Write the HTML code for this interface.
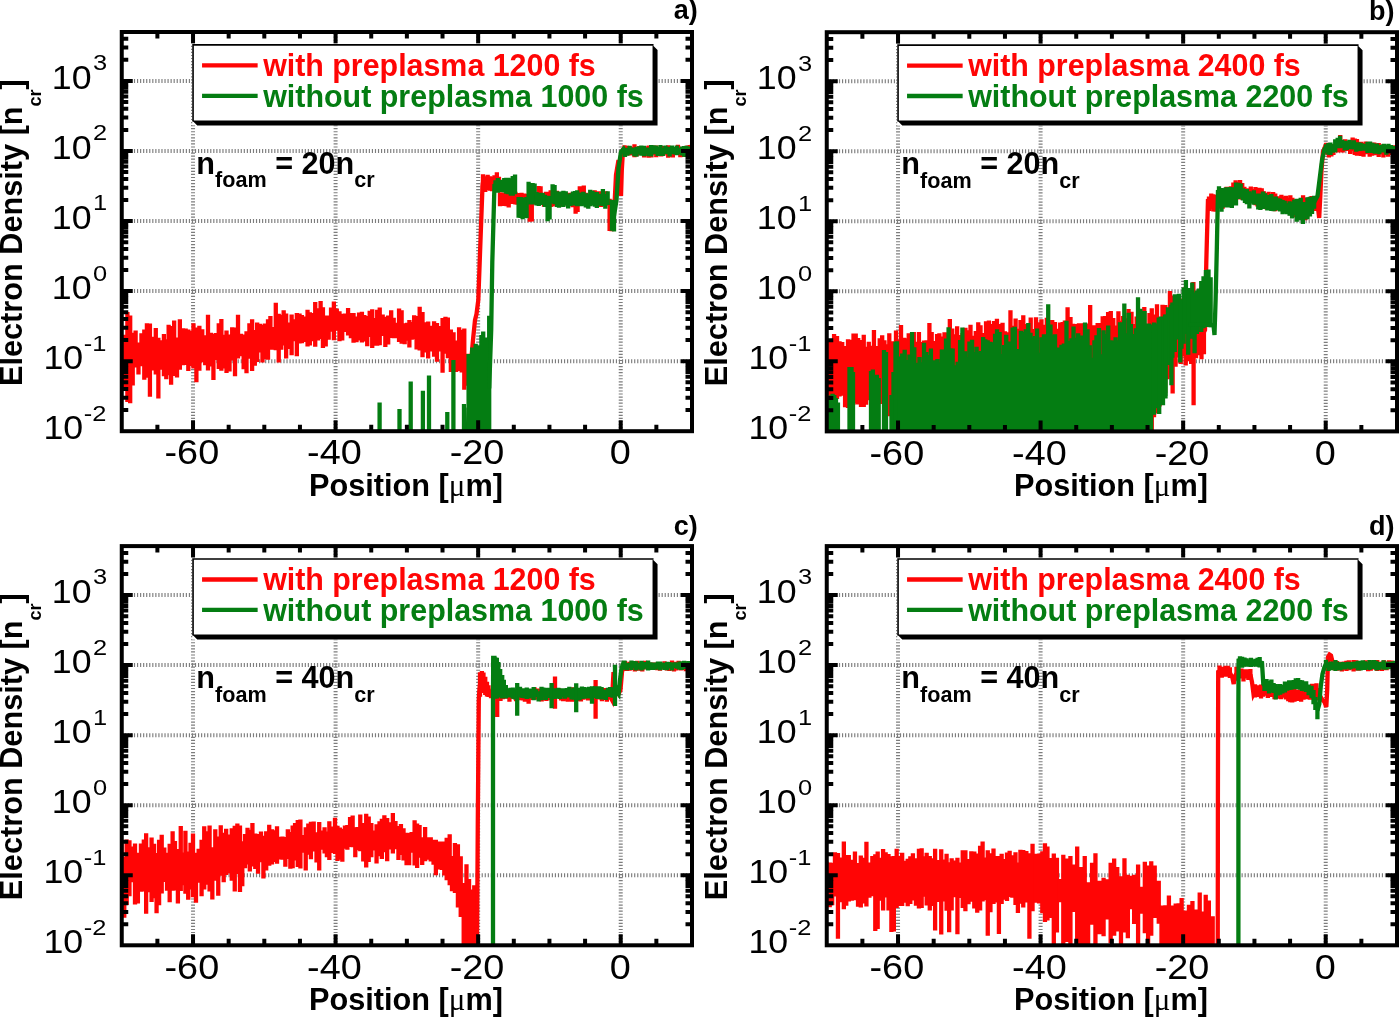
<!DOCTYPE html>
<html lang="en">
<head>
<meta charset="utf-8">
<title>Electron density profiles</title>
<style>
html,body{margin:0;padding:0;background:#fff;}
body{width:1400px;height:1017px;overflow:hidden;}
svg{display:block;will-change:transform;}
text{white-space:pre;}
</style>
</head>
<body>
<svg width="1400" height="1017" viewBox="0 0 1400 1017">
<rect width="1400" height="1017" fill="#fff"/>
<g id="panel-a">
<clipPath id="clip-a"><rect x="121.75" y="32" width="570.25" height="399.2"/></clipPath>
<g stroke="#7d7d7d" stroke-width="4" stroke-dasharray="1.15 1.9" fill="none">
<line x1="193.03" y1="431.2" x2="193.03" y2="32"/>
<line x1="335.59" y1="431.2" x2="335.59" y2="32"/>
<line x1="478.16" y1="431.2" x2="478.16" y2="32"/>
<line x1="620.72" y1="431.2" x2="620.72" y2="32"/>
<line x1="121.75" y1="361.15" x2="692" y2="361.15"/>
<line x1="121.75" y1="291.1" x2="692" y2="291.1"/>
<line x1="121.75" y1="221.06" x2="692" y2="221.06"/>
<line x1="121.75" y1="151.01" x2="692" y2="151.01"/>
<line x1="121.75" y1="80.96" x2="692" y2="80.96"/>
</g>
<g clip-path="url(#clip-a)" fill="none" stroke-width="4.3" stroke-linejoin="miter" stroke-miterlimit="4">
<g stroke="#ff0505">
<path d="M121.5 341.65V359.5M124.38 334.83V390.97M127.4 311.97V402.05M130.18 315.55V403.27M132.72 332.83V385.56M135.61 330.6V367.38M138.48 342.6V374.58M141.45 333.29V366.35M144.29 329.61V379.76M146.91 323.19V377.74M149.92 323.48V396.73M152.75 336.69V370.54M155.79 328.03V374.55M158.37 337.69V398.39M161.41 340.21V369.81M163.92 334.09V376.21M166.28 339.23V379.25M168.64 324.77V375.14M171.09 326.06V384.85M174.16 320.61V376M177 337.58V377.47M179.86 319.18V369.81M182.9 328.15V365.16M185.68 328.41V365.1M188.31 329.38V371.07M190.94 330.73V366.09M193.48 323.23V368.38M196.4 327.49V382.21M199.38 325.85V370.87M202.25 329.21V362.23M205.21 335.27V365.16M208 314.74V370.48M210.93 332.63V366.51M213.43 334V379.91M215.81 332.9V360.01M218.76 323.19V369.06M221.36 318.91V370.83M224.15 334.69V368.4M226.51 330.55V373.05M229.51 334.59V371.51M232.2 327.27V360.54M235.01 327.57V376.32M238.01 314.64V358.54M240.86 333.7V356.31M243.65 334.53V369.26M246.51 331.18V373.26M249.4 323.27V358.77M252.1 319.33V371M254.81 330.07V365.65M257.17 322.59V361.99M259.94 323.63V352.44M262.48 324.63V362.52M264.9 323.52V359.34M268 319.3V359.65M270.41 316V349.85M273.13 327.07V349.84M275.79 302.74V350.21M278.71 313.63V362.43M281.25 314.71V349.66M283.68 310.28V345.5M286.13 313.46V358.39M288.69 322.58V349.07M291.63 314.51V355.36M294.38 319.27V341.2M296.83 312.89V356.2M299.55 313.41V343.5M301.9 315.09V343.19M304.63 316.5V341.89M307.54 309.81V346.38M309.86 312.36V345.39M312.88 313.08V341.22M315.21 302.03V346.74M317.97 308.32V340.55M320.61 301.12V338.95M322.93 307.14V347.93M325.73 315.61V346.6M328.66 315.52V339.64M331.05 307.55V331.73M333.88 301.39V340.16M336.8 308.52V330.76M339.48 311.13V341.25M342.22 313.68V340.52M345.17 313.6V332.01M348.08 308.05V335.4M350.89 313.02V338.31M353.54 312.95V342.85M356.53 316.54V342.26M359.05 312.54V340.49M361.91 311.71V342.49M364.36 315.02V341.61M367.23 315.92V346.27M369.69 310.71V337.09M372.21 309.24V347.93M374.89 317.95V345.65M377.19 309.77V345.84M379.74 307.54V345.15M382.7 314.59V336.01M385.33 316.63V347.05M388.19 315.42V344.59M391.18 310.32V338.08M393.71 317.76V338.27M396.65 322.74V338.21M399.06 308.44V342.11M401.63 310.34V343.69M404.68 323.33V344.27M407.06 322.66V340.73M409.39 320.09V347.41M411.69 322.04V339.74M414.13 315.19V339.21M416.6 316.01V349.52M419.67 306.69V350.46M422.51 312.02V357.23M425.38 322.26V352.43M428.18 321.43V358.41M431.09 325.65V351.45M434.08 321.14V356.75M436.96 322.99V361.71M440.02 325.95V351.62M442.57 318.01V372.84M445.45 316.7V353.7M447.88 317.43V358.37M450.85 329.38V372M453.53 332.32V369.87M456.1 340.54V372.05M459.1 327.25V370.96M461.7 329.69V372.46M464.29 328.48V389.85M467.11 353.63V385.83M469.99 353.64V394.86"/>
<polyline points="469.99,374.25 473,340 475,320 476.5,314 478.3,300 480.5,240 482.5,186 483,181.87"/>
<path d="M483 174.3V189.43M485.25 176.34V191.95M487.68 174.7V190.33M489.96 176.16V190.63M492.05 176.8V191.15M494.47 175.29V189.29M496.87 172.3V188.87M498.95 176.73V190.41"/>
<path d="M500 192.25V206.22M502.51 192.69V206.03M504.62 192.55V205.33M506.61 192.54V206.18M508.71 194.14V207.41M510.71 193.1V204.03M512.99 192.84V203.93M515.41 191.66V204.44M517.31 195.12V204.82M519.23 193.02V207.69M521.51 192.77V205.74M524 193.58V205.54M526.18 193.72V204.23"/>
<path d="M529.8 196.32V221.63M531.8 195.75V221.57"/>
<path d="M535 192.27V204.55"/>
<path d="M538.6 186.05V204.98M540.6 186.13V202.92"/>
<path d="M544 192.7V206.63M546.05 191.77V205.99M548.4 191.85V206.33M550.69 190.31V207.05M552.73 190.8V206.38M554.78 191.43V204.78M556.86 190.75V205.31M559.12 193.47V205.19M561.63 193.7V206.61M563.76 194.46V205.5M565.79 193.42V203.87M568.24 192.8V206.21M570.19 192.88V203.91M572.69 192.3V207.3"/>
<path d="M575.6 196.49V213.66M577.6 196.16V211.89"/>
<path d="M579.8 186.34V204.44M581.8 186.64V203.14M583.8 185.49V203.78"/>
<path d="M586 192.72V204.72M587.9 194.68V207.53M590.23 194.78V205.2M592.37 192.63V204.72M594.66 190.29V203.84M596.99 193.1V203.62M598.88 191.2V205.72M601.14 194.16V207.04M603.47 192.58V203.92M605.54 191.29V205.93"/>
<path d="M609.6 198.85V231.02M611.6 201.18V231.36"/>
<polyline points="611.6,216.27 614.5,205 616,175 618.5,160 620,170 621,196 621.8,170 623,150 624.5,149.71"/>
<path d="M624.5 145.15V154.27M627.03 145.69V154.26M629.67 146.07V155.6M631.86 146.97V155.07M634.47 144.18V157.29M636.77 147.56V156.13M639.37 146.12V154.95M641.59 146.72V154.19M644.17 146.03V157.61M646.3 146.75V155.9M648.73 145.49V157.63M651.42 144.93V157.6M653.84 146.52V154.7M656.25 145.48V157.23M658.51 146.92V155.71M661.22 147.36V156.39M663.45 146.01V155.64M665.78 146.67V154.55M668.19 145.25V157.73M670.34 146.88V156.84M672.84 147.24V157.52M675.45 146.89V154.71M677.96 144.69V154.44M680.32 147.36V157.37M682.48 146.73V157.07M685.22 147.01V156.89M687.56 145.61V154.4M689.81 145.1V156.07M692.02 143.95V156.31"/>
</g>
<g stroke="#047d12">
<path d="M379.6 402.5V461.2M399.5 409V461.2M410.7 381.5V461.2M422.9 390.7V461.2M429 375.4V461.2M447.3 412V461.2M453.4 360V461.2M464 404V461.2"/>
<polyline points="467,461.2 468.6,407.64"/>
<path d="M468.6 354.07V461.2M470.29 357.86V461.2M472.2 347.45V461.2M474.07 359.31V461.2M475.69 343.77V461.2M477.8 345.47V461.2M479.42 346.95V461.2M481.41 335.01V461.2M483.2 331.61V461.35M485.28 337.94V461.2M487.45 337.43V461.2M489.19 315.82V461.2"/>
<polyline points="489.19,388.51 491.2,330 492.3,262 494.5,184 495.5,186.58"/>
<path d="M495.5 180.34V192.81M497.83 178.03V192.77M499.74 180.03V192.01M501.79 179.66V192.09M504.25 178.01V192.62M506.26 177.63V193.71M508.32 177.75V194.22M510.82 178.8V195.75M512.74 176.09V195.7M515.04 174.38V194.37"/>
<path d="M518.6 197.02V217.76M520.6 196.88V218.09M522.6 197.53V219.32M524.6 197.39V217.6M526.6 196.99V218.25"/>
<path d="M528.6 181.86V204.51M530.6 183.33V204.58M532.6 182.93V204.43M534.6 183.52V202.91"/>
<path d="M536.5 191.88V205.52M538.77 192.93V205.89M540.69 192.77V204.17M542.67 193.08V205.12M544.93 194.63V206.94"/>
<path d="M547.6 195.69V221.34M549.6 195.91V219.4"/>
<path d="M552.6 184.24V203.4M554.6 184.92V204.37"/>
<path d="M557 191.14V207.01M558.99 195.12V207.8M560.96 191.55V205.34M563.39 190.73V207M565.78 191.27V205.46M568.12 194.34V208.46M570.54 193.33V206.02M573.01 191.44V204.72M575.01 191V205.56M577.23 190.31V206.34M579.4 192.46V204.49M581.28 194.87V206.27M583.31 191.83V205.79M585.78 193.33V207.43M588.28 194.01V208.71M590.22 189.65V206.22M592.45 190.73V205.38M594.89 193.37V206.75M596.85 191.98V207.9M598.75 194.09V205.69M600.71 193.63V204.47M602.9 188.95V206.04M605.31 194V208.73M607.67 191.26V205.04"/>
<path d="M612 199.87V230.73M614 200.25V231.49"/>
<polyline points="614,215.87 616.5,200 618.5,168 621,152 623.5,149 625,152.33"/>
<path d="M625 147.69V156.96M627.37 148V155.73M629.56 145.77V154.45M631.68 147.47V153.87M634.31 148.2V156.21M636.41 146.65V156.78M638.95 146.29V154.41M641.28 145.45V155.75M643.91 145.7V156.15M646.09 147.63V154.24M648.42 147.42V156.28M651.13 145.05V156.45M653.48 145.35V154.18M655.72 145.42V153.91M657.77 146.87V155.96M660.5 145.07V156.12M662.76 147.87V155.98M665.41 145.57V154.37M667.55 146.74V153.92M669.67 147.04V156.6M672.02 145.57V154.04M674.53 146.88V154.47M676.79 145.41V155.28M679.31 147.69V154.21M681.85 146.54V155.6M684.18 146.02V156.74M686.36 145.67V157.12M688.77 146.6V155.4M691.52 147.38V155.05M693.88 145.7V154.3"/>
</g>
</g>
<g stroke="#000" stroke-width="4" fill="none">
<path d="M157.39 431.2v-6.5 M157.39 32v6.5"/>
<path d="M193.03 431.2v-11 M193.03 32v11"/>
<path d="M228.67 431.2v-6.5 M228.67 32v6.5"/>
<path d="M264.31 431.2v-6.5 M264.31 32v6.5"/>
<path d="M299.95 431.2v-6.5 M299.95 32v6.5"/>
<path d="M335.59 431.2v-11 M335.59 32v11"/>
<path d="M371.23 431.2v-6.5 M371.23 32v6.5"/>
<path d="M406.88 431.2v-6.5 M406.88 32v6.5"/>
<path d="M442.52 431.2v-6.5 M442.52 32v6.5"/>
<path d="M478.16 431.2v-11 M478.16 32v11"/>
<path d="M513.8 431.2v-6.5 M513.8 32v6.5"/>
<path d="M549.44 431.2v-6.5 M549.44 32v6.5"/>
<path d="M585.08 431.2v-6.5 M585.08 32v6.5"/>
<path d="M620.72 431.2v-11 M620.72 32v11"/>
<path d="M656.36 431.2v-6.5 M656.36 32v6.5"/>
<path d="M121.75 410.11h6.5 M692 410.11h-6.5"/>
<path d="M121.75 397.78h6.5 M692 397.78h-6.5"/>
<path d="M121.75 389.03h6.5 M692 389.03h-6.5"/>
<path d="M121.75 382.24h6.5 M692 382.24h-6.5"/>
<path d="M121.75 376.69h6.5 M692 376.69h-6.5"/>
<path d="M121.75 372h6.5 M692 372h-6.5"/>
<path d="M121.75 367.94h6.5 M692 367.94h-6.5"/>
<path d="M121.75 364.36h6.5 M692 364.36h-6.5"/>
<path d="M121.75 361.15h11 M692 361.15h-11"/>
<path d="M121.75 340.07h6.5 M692 340.07h-6.5"/>
<path d="M121.75 327.73h6.5 M692 327.73h-6.5"/>
<path d="M121.75 318.98h6.5 M692 318.98h-6.5"/>
<path d="M121.75 312.19h6.5 M692 312.19h-6.5"/>
<path d="M121.75 306.64h6.5 M692 306.64h-6.5"/>
<path d="M121.75 301.96h6.5 M692 301.96h-6.5"/>
<path d="M121.75 297.89h6.5 M692 297.89h-6.5"/>
<path d="M121.75 294.31h6.5 M692 294.31h-6.5"/>
<path d="M121.75 291.1h11 M692 291.1h-11"/>
<path d="M121.75 270.02h6.5 M692 270.02h-6.5"/>
<path d="M121.75 257.68h6.5 M692 257.68h-6.5"/>
<path d="M121.75 248.93h6.5 M692 248.93h-6.5"/>
<path d="M121.75 242.14h6.5 M692 242.14h-6.5"/>
<path d="M121.75 236.6h6.5 M692 236.6h-6.5"/>
<path d="M121.75 231.91h6.5 M692 231.91h-6.5"/>
<path d="M121.75 227.85h6.5 M692 227.85h-6.5"/>
<path d="M121.75 224.26h6.5 M692 224.26h-6.5"/>
<path d="M121.75 221.06h11 M692 221.06h-11"/>
<path d="M121.75 199.97h6.5 M692 199.97h-6.5"/>
<path d="M121.75 187.64h6.5 M692 187.64h-6.5"/>
<path d="M121.75 178.88h6.5 M692 178.88h-6.5"/>
<path d="M121.75 172.1h6.5 M692 172.1h-6.5"/>
<path d="M121.75 166.55h6.5 M692 166.55h-6.5"/>
<path d="M121.75 161.86h6.5 M692 161.86h-6.5"/>
<path d="M121.75 157.8h6.5 M692 157.8h-6.5"/>
<path d="M121.75 154.21h6.5 M692 154.21h-6.5"/>
<path d="M121.75 151.01h11 M692 151.01h-11"/>
<path d="M121.75 129.92h6.5 M692 129.92h-6.5"/>
<path d="M121.75 117.59h6.5 M692 117.59h-6.5"/>
<path d="M121.75 108.84h6.5 M692 108.84h-6.5"/>
<path d="M121.75 102.05h6.5 M692 102.05h-6.5"/>
<path d="M121.75 96.5h6.5 M692 96.5h-6.5"/>
<path d="M121.75 91.81h6.5 M692 91.81h-6.5"/>
<path d="M121.75 87.75h6.5 M692 87.75h-6.5"/>
<path d="M121.75 84.17h6.5 M692 84.17h-6.5"/>
<path d="M121.75 80.96h11 M692 80.96h-11"/>
<path d="M121.75 59.87h6.5 M692 59.87h-6.5"/>
<path d="M121.75 47.54h6.5 M692 47.54h-6.5"/>
<path d="M121.75 38.79h6.5 M692 38.79h-6.5"/>
</g>
<rect x="121.75" y="32" width="570.25" height="399.2" fill="none" stroke="#000" stroke-width="4"/>
<g id="legend-a">
<rect x="192.25" y="44.1" width="465.3" height="81.3" fill="#fff"/>
<path d="M652.55 45.1 L657.55 50.1 L657.55 125.4 L197.25 125.4 L192.25 120.4 L652.55 120.4 Z" fill="#000"/>
<path d="M193.05 121.4 V44.9 H653.55" fill="none" stroke="#000" stroke-width="1.6"/>
<line x1="202.05" y1="65.4" x2="257.65" y2="65.4" stroke="#ff0505" stroke-width="4.3"/>
<line x1="202.05" y1="95.8" x2="257.65" y2="95.8" stroke="#047d12" stroke-width="4.3"/>
<text x="263.15" y="76.1" font-family="'Liberation Sans', Arial, Helvetica, sans-serif" font-weight="bold" font-size="30.5" fill="#ff0505" textLength="332.6" lengthAdjust="spacingAndGlyphs">with preplasma 1200 fs</text>
<text x="263.15" y="106.7" font-family="'Liberation Sans', Arial, Helvetica, sans-serif" font-weight="bold" font-size="30.5" fill="#047d12" textLength="380.6" lengthAdjust="spacingAndGlyphs">without preplasma 1000 fs</text>
</g>
<text x="196.35" y="174" font-family="'Liberation Sans', Arial, Helvetica, sans-serif" font-weight="bold" font-size="30.6" fill="#000">n<tspan font-size="21.6" dy="13.4">foam</tspan><tspan dy="-13.4"> = 20n</tspan><tspan font-size="21.6" dy="13.4">cr</tspan></text>
<text transform="translate(191.83 464.4) scale(1.065 1)" font-family="'Liberation Sans', Arial, Helvetica, sans-serif" font-size="35.5" text-anchor="middle" fill="#000">-60</text>
<text transform="translate(334.39 464.4) scale(1.065 1)" font-family="'Liberation Sans', Arial, Helvetica, sans-serif" font-size="35.5" text-anchor="middle" fill="#000">-40</text>
<text transform="translate(476.96 464.4) scale(1.065 1)" font-family="'Liberation Sans', Arial, Helvetica, sans-serif" font-size="35.5" text-anchor="middle" fill="#000">-20</text>
<text transform="translate(620.32 464.4) scale(1.065 1)" font-family="'Liberation Sans', Arial, Helvetica, sans-serif" font-size="35.5" text-anchor="middle" fill="#000">0</text>
<text transform="translate(83.25 439.2) scale(1.1 1)" font-family="'Liberation Sans', Arial, Helvetica, sans-serif" font-size="32.5" text-anchor="end" fill="#000">10</text>
<text transform="translate(83.75 420.6) scale(1.13 1)" font-family="'Liberation Sans', Arial, Helvetica, sans-serif" font-size="22.5" fill="#000">-2</text>
<text transform="translate(83.25 369.15) scale(1.1 1)" font-family="'Liberation Sans', Arial, Helvetica, sans-serif" font-size="32.5" text-anchor="end" fill="#000">10</text>
<text transform="translate(83.75 350.55) scale(1.13 1)" font-family="'Liberation Sans', Arial, Helvetica, sans-serif" font-size="22.5" fill="#000">-1</text>
<text transform="translate(91.55 299.1) scale(1.1 1)" font-family="'Liberation Sans', Arial, Helvetica, sans-serif" font-size="32.5" text-anchor="end" fill="#000">10</text>
<text transform="translate(93.05 280.5) scale(1.13 1)" font-family="'Liberation Sans', Arial, Helvetica, sans-serif" font-size="22.5" fill="#000">0</text>
<text transform="translate(91.55 229.06) scale(1.1 1)" font-family="'Liberation Sans', Arial, Helvetica, sans-serif" font-size="32.5" text-anchor="end" fill="#000">10</text>
<text transform="translate(93.05 210.46) scale(1.13 1)" font-family="'Liberation Sans', Arial, Helvetica, sans-serif" font-size="22.5" fill="#000">1</text>
<text transform="translate(91.55 159.01) scale(1.1 1)" font-family="'Liberation Sans', Arial, Helvetica, sans-serif" font-size="32.5" text-anchor="end" fill="#000">10</text>
<text transform="translate(93.05 140.41) scale(1.13 1)" font-family="'Liberation Sans', Arial, Helvetica, sans-serif" font-size="22.5" fill="#000">2</text>
<text transform="translate(91.55 88.96) scale(1.1 1)" font-family="'Liberation Sans', Arial, Helvetica, sans-serif" font-size="32.5" text-anchor="end" fill="#000">10</text>
<text transform="translate(93.05 70.36) scale(1.13 1)" font-family="'Liberation Sans', Arial, Helvetica, sans-serif" font-size="22.5" fill="#000">3</text>
<text x="405.98" y="496" font-family="'Liberation Sans', Arial, Helvetica, sans-serif" font-weight="bold" font-size="30.7" text-anchor="middle" fill="#000">Position [<tspan font-family="'Liberation Serif', 'DejaVu Serif', serif" font-weight="normal" font-size="31">μ</tspan>m]</text>
<text transform="translate(22.25 232.6) rotate(-90)" font-family="'Liberation Sans', Arial, Helvetica, sans-serif" font-weight="bold" font-size="30.7" text-anchor="middle" fill="#000">Electron Density [n<tspan font-size="18" dy="18.3">cr</tspan><tspan dy="-18.3">]</tspan></text>
<text x="697.8" y="19.4" font-family="'Liberation Sans', Arial, Helvetica, sans-serif" font-weight="bold" font-size="27" text-anchor="end" fill="#000">a)</text>
</g>
<g id="panel-b">
<clipPath id="clip-b"><rect x="826.75" y="32.2" width="570.25" height="399.2"/></clipPath>
<g stroke="#7d7d7d" stroke-width="4" stroke-dasharray="1.15 1.9" fill="none">
<line x1="898.03" y1="431.4" x2="898.03" y2="32.2"/>
<line x1="1040.59" y1="431.4" x2="1040.59" y2="32.2"/>
<line x1="1183.16" y1="431.4" x2="1183.16" y2="32.2"/>
<line x1="1325.72" y1="431.4" x2="1325.72" y2="32.2"/>
<line x1="826.75" y1="361.35" x2="1397" y2="361.35"/>
<line x1="826.75" y1="291.3" x2="1397" y2="291.3"/>
<line x1="826.75" y1="221.26" x2="1397" y2="221.26"/>
<line x1="826.75" y1="151.21" x2="1397" y2="151.21"/>
<line x1="826.75" y1="81.16" x2="1397" y2="81.16"/>
</g>
<g clip-path="url(#clip-b)" fill="none" stroke-width="4.3" stroke-linejoin="miter" stroke-miterlimit="4">
<g stroke="#ff0505">
<path d="M826.5 354.81V396.1M828.9 339.4V425.9M831.5 339.09V404.2M834.08 333.99V397.51M837.01 336.05V399.11M839.53 341.22V396.38M842.21 341.95V395.78M845.08 346.06V407.21M848.01 339.28V408.12M850.69 339.66V430.35M853.52 333.46V404.7M855.73 333.42V403.51M858.21 338.06V404.46M861 340.07V407.1M863.75 334.77V407.05M866.11 346.85V404.87M868.78 341.87V400.32M871.28 345.67V402.81M873.95 330.12V407.18M876.84 345.89V405M879.71 338.16V403.05M882.18 335.13V404.11M884.45 340.26V409.08M886.7 344.15V407.51M889.3 333.33V416.23M892.01 341.3V407.41"/>
<path d="M896 330.58V458.37M898.6 340.11V457.27M901.02 324.92V465.81M903.99 337.72V466.67M906.29 338.19V460.2M908.73 333.37V465.07M911.24 342.71V464.68M913.8 331.98V457.92M916.33 341.75V457.99M918.92 332.04V470M921.57 342V455.25M923.96 340.46V456.97M926.53 340.32V461.4M929.41 322.94V464.27M931.68 331.94V466.62M934.2 341.1V457.76M937.09 333.96V457.06M939.39 333.27V458.28M942.16 336.54V456.91M944.52 332.16V466.21M947.38 332.48V459.21M949.84 318.93V456.64M952.21 328.52V457.94M954.66 334.32V472.81M957.12 326.28V466.3M960.06 335.08V459.15M962.57 332.96V456.43M965.43 327.86V461.86M967.86 330.18V467.04M970.5 324.76V469.66M973.39 335.76V461.51M975.78 330.98V457.06M978.25 322.33V456.14M980.51 325.19V464.46M983.17 332.95V456.22M986.03 321.17V456.79M988.91 320.51V464.82M991.56 323.95V455.68M994.02 320.95V462.11M996.93 318.78V463.12M999.65 323.88V462.48M1002.54 322.65V466.34M1005.02 331.35V460.62M1007.95 332.27V457.38M1010.47 310.18V456.79M1012.99 325.86V460.47M1015.61 318.42V456.19M1018.22 328.65V462.51M1020.49 319.98V464.46M1023.28 315.3V474.12M1025.71 323.88V460.83M1027.92 328.97V471.64M1030.71 317.4V456.34M1033 328.97V457.43M1035.96 317.34V458.37M1038.75 322.36V470.77M1041.47 319.17V462.23M1044.37 324.83V461.59M1046.81 317.74V471.97M1049.57 329.05V463.27M1052.23 320.1V464.08M1054.98 322.11V463.06M1057.78 328.79V458.44M1060.2 322.47V455.73M1062.65 322.05V458.38M1064.87 320.54V455.36M1067.58 307.35V462.17M1070.5 316.98V465.95M1073.12 323.74V457.43M1076.11 323.94V463.22M1078.92 323.23V466.99M1081.9 323.33V461.78M1084.88 322.97V460.28M1087.41 323.58V463.21M1090.18 304.99V455.77M1092.52 325.34V456.44M1095.24 325.33V473.19M1097.64 322.9V459.47M1099.86 323.07V473.88M1102.7 316.16V466.96M1105.23 315.98V466.42M1108.11 311.99V462.67M1110.8 310.9V459.13M1113.28 318.01V467.16M1116.09 325.42V466.78M1118.42 311.15V465.34M1120.67 320.71V457.22M1123.06 316.11V456.71M1125.58 318.25V466.31M1128.55 308.9V462.1M1131.5 311.79V460.02M1134.29 323.97V460.24M1136.61 316.43V468.2M1139.35 315.12V461.44M1141.75 322.48V457.72M1144.3 306.96V455.48M1146.99 324.51V463.16M1149.48 312.92V465.47M1151.77 308.19V455.5"/>
<path d="M1154 314.44V417.35M1156.98 304.32V413.4M1159.58 317.36V406.38M1162.49 304.78V397.6M1165.19 304.93V393.04M1167.6 311.42V379.13M1169.95 291.01V377.25M1172.63 295.62V393.6M1175.56 302.26V366.65M1177.99 297.28V357.58M1180.73 298.55V364.09M1183.11 301.48V356.41M1185.7 286.71V365.6M1188.24 304.67V361.18M1191.17 295.65V363.91M1193.39 282V354.83M1196.02 296.68V358.31M1198.93 291.52V355.23M1201.49 286.82V359.23M1203.93 286.01V354.35"/>
<path d="M1193.6 299.37V405.13"/>
<polyline points="1193.6,352.25 1205,330 1206.3,262 1208,199 1209,203.76"/>
<path d="M1209 196.54V210.98M1211.26 193.39V209.06M1213.41 194.23V211.6M1215.59 195.06V211.8M1218.08 195.61V207.11M1220.14 190.33V206.73M1222.67 189.91V208.85M1224.74 189.52V204.84M1226.64 186.71V206.29M1228.52 188.37V206.8M1230.96 186.21V205.11M1233.34 182.62V199.81M1235.62 180.29V195.77M1237.88 182.07V192.84M1240.07 179.98V199.52M1242.24 183.1V199.86M1244.35 186.86V198.21M1246.5 188.27V200.72M1248.56 189.52V199.32M1250.81 186.53V201.58M1252.91 189V201.55M1255.44 187.09V205.23M1257.5 190.86V206.57M1259.49 187.65V204.93M1261.74 188.28V206.61M1263.87 191.17V206.07M1266.31 193.06V209.13M1268.68 191.74V205.63M1271.06 193.92V206.32M1273.16 191.89V208.48M1275.24 193.5V211.19M1277.25 196.53V208.22M1279.22 196.27V209.07M1281.4 194.8V210.48M1283.75 196.57V212.03M1285.93 195.84V211.6M1288.04 197.86V211.79M1290.35 195.18V215.19M1292.37 197.75V212.83M1294.76 199.73V217.15M1296.66 199.54V214.71M1298.64 199.6V218.07M1300.63 199.18V217.38M1303.07 195.32V217.62M1305.3 200.54V220.17M1307.21 197.66V217.55M1309.56 197.33V214.27M1311.49 196.11V210.27M1313.43 196.03V209.68M1315.91 195.88V210.92"/>
<polyline points="1315.91,203.4 1318,208 1319.2,218 1320.3,196 1321.5,170 1323,152 1325,147 1326.5,148.78"/>
<path d="M1326.5 142.83V154.73M1328.91 145.24V157.39M1331.37 144V156.57M1333.43 144.67V154.88M1336.05 142.59V151.56M1338.13 140.65V152.45M1340.25 134.96V151.69M1342.74 140.3V152.38M1345.19 139.3V150.67M1347.65 141.25V150.99M1350.18 141.29V153.96M1352.63 137.45V151M1354.78 138.5V154.97M1356.95 138.94V155.74M1358.96 142.81V154.14M1360.93 141.79V156.02M1363.55 142.74V156.79M1365.7 141.53V154.26M1367.68 142.64V154.3M1369.7 143.01V156.71M1372.06 144.26V155.77M1374.27 142.61V155.36M1376.45 145.25V155.23M1378.71 143.07V157.05M1381.01 145.13V154.28M1383.36 144.27V157.59M1385.53 145.81V155.06M1387.98 146.69V156.69M1390.24 145.49V154.96M1392.72 147.32V154.67M1394.69 145.37V154.83M1396.8 147.51V156.24M1399.35 148.62V157.9"/>
</g>
<g stroke="#047d12">
<path d="M827 409.35V461.2M828.98 399.78V461.2M830.83 395.16V461.2M832.57 393.71V461.2M834.28 395.09V461.2M835.99 397.91V461.2M837.93 402.41V461.2"/>
<polyline points="837.93,431.81 840,461.2"/>
<path d="M849.5 367V461.2M851.5 367V461.2M853 372V461.2"/>
<path d="M871 370.98V461.2M872.9 369.4V461.2M874.91 376V461.2M876.86 374.64V461.2M878.7 377.92V461.2"/>
<path d="M884 350V461.2M886 352V461.2M891.5 395V461.2M893.5 372V461.2"/>
<path d="M895.5 341.86V461.2M896.96 341.28V461.2"/>
<path d="M900 356.62V461.2M902.2 353.38V461.2M904.68 349.67V461.2M907.07 359.99V461.2M909.45 354.45V461.2M912.06 331.89V461.2M914.29 347.27V461.2M916.89 362.73V461.48M919.5 357.11V461.2M921.61 362.35V461.2M924.02 342.83V461.2M926.23 351.9V461.2M928.48 354.89V461.2M930.91 348.48V461.2M932.87 360.55V461.2M935.22 360.32V461.98M937.42 359V461.2M939.7 362.53V461.2M941.86 349.43V461.2M944.01 353.19V461.2M946 338.44V461.2M948.57 327.18V461.2M950.54 348.13V461.7M952.66 348.55V461.2M955.01 365.27V461.2M957.63 361.75V461.2M960.11 340.09V461.2M962.41 327.4V461.2M965.02 351.29V461.2M966.99 357.05V461.2M969.43 341.45V461.2M972.04 339.87V461.2M974.11 351.92V461.2M976.59 346.72V461.2M978.7 351.8V461.2M981.1 350.98V461.2M983.1 337.07V461.2M985.29 339.37V461.2M987.67 340.17V461.2M990.03 341.79V461.2M992.66 342.17V461.61M995.08 333.79V461.2M997.04 329.33V461.2M999.65 332.06V461.2M1001.96 354.07V461.2M1004.16 345.05V461.2M1006.22 334.64V461.31M1008.25 344.48V461.2M1010.21 341.53V461.2M1012.63 327.61V461.2M1014.85 326.72V461.2M1016.87 349.07V461.2M1018.92 350.26V461.2M1020.95 330.68V461.8M1023.34 331.7V461.2M1025.79 329.3V461.2M1028.25 323.11V461.2M1030.52 332.64V461.2M1032.92 337.48V461.2M1035.02 336.11V461.2M1037.07 328.45V461.2M1039.57 352.68V461.2M1041.56 337.2V461.2M1043.94 334.35V461.2M1046.09 339.09V461.2M1048.22 304.21V461.2M1050.49 324.38V461.2M1053.01 335.25V461.2M1055 334.19V461.68M1057.02 353.53V461.2M1059.05 347.48V461.2M1061.49 344.78V461.7M1063.9 343.53V461.2M1066.49 320.83V461.2M1069.04 340.63V461.2M1071.52 338.26V461.2M1073.51 326.44V461.2M1075.94 337.68V461.2M1078.15 333.23V461.2M1080.53 339.04V462.09M1082.5 335.55V461.2M1085.03 322.55V461.2M1087.55 329.18V461.2M1089.77 345.25V461.2M1092.21 357.68V461.2M1094.4 340.13V461.2M1096.45 335.32V461.2M1098.93 327.88V461.2M1101.08 354.16V461.2M1103.57 330.15V461.2M1106.05 334.12V461.2M1108.21 325.55V461.54M1110.46 340.28V461.2M1113.08 340.59V461.2M1115.57 337.27V461.2M1117.65 340.28V461.2M1120.1 322.3V461.2M1122.27 332.35V461.2M1124.32 303.54V461.2M1126.73 333.27V461.2M1128.86 312.8V461.2M1130.87 323.93V461.2M1133.23 333.94V461.2M1135.86 328.16V461.2M1138.01 297.3V461.2M1140.42 308.77V461.2M1142.55 322.94V461.2M1144.6 311.08V461.2M1146.81 326.71V461.2M1148.84 323.38V461.2M1151.04 324.38V461.2"/>
<path d="M1154 322.38V414.65M1156.18 323.44V408.31M1158.71 317.59V407.78M1160.75 316.39V395.95M1162.99 316.38V405.37M1165.32 314.61V395.92M1167.95 307.3V365M1170.01 314.51V357.3M1172.41 302.5V357.76M1174.76 294.21V351.94M1176.91 302.57V339.61M1178.92 293.85V338.26M1181.48 305.49V348.71M1183.65 287.43V343.63M1185.92 280.07V333.94M1187.9 288.1V332.13M1190.15 289.29V335.97M1192.22 282.62V338.84M1194.58 292.57V353.13M1196.88 290.52V334.01M1198.9 288.62V326.68M1201.26 281.1V332M1203.51 276.37V328.27M1205.93 269.95V324.22M1208.51 269.42V326.34M1210.64 277.28V327.13"/>
<path d="M1159.2 320.11V414.07"/>
<path d="M1165.5 314.86V398.55"/>
<path d="M1171.4 304.81V385.23"/>
<path d="M1180.2 299.17V362.39"/>
<path d="M1188.2 293.96V354.82"/>
<polyline points="1188.2,324.39 1213.5,325 1214.5,335 1215.6,300 1216.8,250 1218,190 1219,197.28"/>
<path d="M1219 186.16V208.41M1221.53 187.98V211.77M1223.92 189.13V206.4M1225.87 187.15V207.49M1227.91 190.91V204.44M1230 187.09V207.41M1231.88 187.67V207.97M1234.01 187.13V200.87M1236 182.42V205.44M1238.37 182.67V199M1240.7 183.38V197.53M1242.92 188.3V200.38M1244.94 190.17V202.95M1246.87 189.11V204.16M1249.35 191.14V208.57M1251.83 192.6V203.45M1253.9 190.18V204.8M1256.14 194.06V204.7M1258.25 193.58V209.38M1260.4 193.8V210.06M1262.91 191.48V209.05M1265.16 193.19V207.26M1267.28 194.95V210.45M1269.31 197.21V209.53M1271.36 193.99V210.94M1273.69 197.72V211.19M1275.8 196.58V209.99M1278.26 198.2V210.41M1280.17 198.83V211.48M1282.62 200.03V214.15M1284.69 200.83V213.52M1287.12 203.23V214.21M1289.61 201.24V215.72M1292.09 202.37V218.48M1294.29 199.58V215.21M1296.71 198.63V221.64M1298.84 200.03V220.25M1300.73 197.77V219.54M1302.9 202.05V223.99M1305.41 202.28V219.51M1307.47 197.33V219.25M1309.96 196.8V216.55M1312.04 197.81V214.03M1314.12 195.7V208.8"/>
<polyline points="1314.12,202.25 1317.5,196 1319.5,180 1322,160 1324.5,149 1326,148.4"/>
<path d="M1326 144.26V152.54M1328.32 142.99V154.64M1330.47 142.51V155.07M1332.89 144.22V152.68M1335.21 139.18V152.13M1337.68 137.66V148.25M1340.04 135.78V148.26M1342.07 139.79V147.72M1344.65 140.74V150.45M1346.88 141.2V150.12M1349.4 139.73V149.07M1351.68 141.93V149.34M1353.83 140.19V149.39M1356.26 142.33V151.79M1358.41 142.16V150.62M1360.4 142.82V151.11M1362.44 143.52V150.36M1364.92 143.94V150.65M1367.46 141.63V152.96M1370.09 141.48V152.64M1372.37 142.69V153.07M1374.82 143.68V153.8M1376.88 143.42V151.98M1379.24 145.28V154.32M1381.87 144.74V152.43M1383.87 143.66V152.35M1386.33 144.69V154.78M1388.47 143.67V153.22M1390.96 145.09V152.56M1393.58 145.93V152.71M1395.55 146.06V152.96M1397.76 146.12V155.67"/>
</g>
</g>
<g stroke="#000" stroke-width="4" fill="none">
<path d="M862.39 431.4v-6.5 M862.39 32.2v6.5"/>
<path d="M898.03 431.4v-11 M898.03 32.2v11"/>
<path d="M933.67 431.4v-6.5 M933.67 32.2v6.5"/>
<path d="M969.31 431.4v-6.5 M969.31 32.2v6.5"/>
<path d="M1004.95 431.4v-6.5 M1004.95 32.2v6.5"/>
<path d="M1040.59 431.4v-11 M1040.59 32.2v11"/>
<path d="M1076.23 431.4v-6.5 M1076.23 32.2v6.5"/>
<path d="M1111.88 431.4v-6.5 M1111.88 32.2v6.5"/>
<path d="M1147.52 431.4v-6.5 M1147.52 32.2v6.5"/>
<path d="M1183.16 431.4v-11 M1183.16 32.2v11"/>
<path d="M1218.8 431.4v-6.5 M1218.8 32.2v6.5"/>
<path d="M1254.44 431.4v-6.5 M1254.44 32.2v6.5"/>
<path d="M1290.08 431.4v-6.5 M1290.08 32.2v6.5"/>
<path d="M1325.72 431.4v-11 M1325.72 32.2v11"/>
<path d="M1361.36 431.4v-6.5 M1361.36 32.2v6.5"/>
<path d="M826.75 410.31h6.5 M1397 410.31h-6.5"/>
<path d="M826.75 397.98h6.5 M1397 397.98h-6.5"/>
<path d="M826.75 389.23h6.5 M1397 389.23h-6.5"/>
<path d="M826.75 382.44h6.5 M1397 382.44h-6.5"/>
<path d="M826.75 376.89h6.5 M1397 376.89h-6.5"/>
<path d="M826.75 372.2h6.5 M1397 372.2h-6.5"/>
<path d="M826.75 368.14h6.5 M1397 368.14h-6.5"/>
<path d="M826.75 364.56h6.5 M1397 364.56h-6.5"/>
<path d="M826.75 361.35h11 M1397 361.35h-11"/>
<path d="M826.75 340.27h6.5 M1397 340.27h-6.5"/>
<path d="M826.75 327.93h6.5 M1397 327.93h-6.5"/>
<path d="M826.75 319.18h6.5 M1397 319.18h-6.5"/>
<path d="M826.75 312.39h6.5 M1397 312.39h-6.5"/>
<path d="M826.75 306.84h6.5 M1397 306.84h-6.5"/>
<path d="M826.75 302.16h6.5 M1397 302.16h-6.5"/>
<path d="M826.75 298.09h6.5 M1397 298.09h-6.5"/>
<path d="M826.75 294.51h6.5 M1397 294.51h-6.5"/>
<path d="M826.75 291.3h11 M1397 291.3h-11"/>
<path d="M826.75 270.22h6.5 M1397 270.22h-6.5"/>
<path d="M826.75 257.88h6.5 M1397 257.88h-6.5"/>
<path d="M826.75 249.13h6.5 M1397 249.13h-6.5"/>
<path d="M826.75 242.34h6.5 M1397 242.34h-6.5"/>
<path d="M826.75 236.8h6.5 M1397 236.8h-6.5"/>
<path d="M826.75 232.11h6.5 M1397 232.11h-6.5"/>
<path d="M826.75 228.05h6.5 M1397 228.05h-6.5"/>
<path d="M826.75 224.46h6.5 M1397 224.46h-6.5"/>
<path d="M826.75 221.26h11 M1397 221.26h-11"/>
<path d="M826.75 200.17h6.5 M1397 200.17h-6.5"/>
<path d="M826.75 187.84h6.5 M1397 187.84h-6.5"/>
<path d="M826.75 179.08h6.5 M1397 179.08h-6.5"/>
<path d="M826.75 172.3h6.5 M1397 172.3h-6.5"/>
<path d="M826.75 166.75h6.5 M1397 166.75h-6.5"/>
<path d="M826.75 162.06h6.5 M1397 162.06h-6.5"/>
<path d="M826.75 158h6.5 M1397 158h-6.5"/>
<path d="M826.75 154.41h6.5 M1397 154.41h-6.5"/>
<path d="M826.75 151.21h11 M1397 151.21h-11"/>
<path d="M826.75 130.12h6.5 M1397 130.12h-6.5"/>
<path d="M826.75 117.79h6.5 M1397 117.79h-6.5"/>
<path d="M826.75 109.04h6.5 M1397 109.04h-6.5"/>
<path d="M826.75 102.25h6.5 M1397 102.25h-6.5"/>
<path d="M826.75 96.7h6.5 M1397 96.7h-6.5"/>
<path d="M826.75 92.01h6.5 M1397 92.01h-6.5"/>
<path d="M826.75 87.95h6.5 M1397 87.95h-6.5"/>
<path d="M826.75 84.37h6.5 M1397 84.37h-6.5"/>
<path d="M826.75 81.16h11 M1397 81.16h-11"/>
<path d="M826.75 60.07h6.5 M1397 60.07h-6.5"/>
<path d="M826.75 47.74h6.5 M1397 47.74h-6.5"/>
<path d="M826.75 38.99h6.5 M1397 38.99h-6.5"/>
</g>
<rect x="826.75" y="32.2" width="570.25" height="399.2" fill="none" stroke="#000" stroke-width="4"/>
<g id="legend-b">
<rect x="897.25" y="44.3" width="465.3" height="81.3" fill="#fff"/>
<path d="M1357.55 45.3 L1362.55 50.3 L1362.55 125.6 L902.25 125.6 L897.25 120.6 L1357.55 120.6 Z" fill="#000"/>
<path d="M898.05 121.6 V45.1 H1358.55" fill="none" stroke="#000" stroke-width="1.6"/>
<line x1="907.05" y1="65.6" x2="962.65" y2="65.6" stroke="#ff0505" stroke-width="4.3"/>
<line x1="907.05" y1="96" x2="962.65" y2="96" stroke="#047d12" stroke-width="4.3"/>
<text x="968.15" y="76.3" font-family="'Liberation Sans', Arial, Helvetica, sans-serif" font-weight="bold" font-size="30.5" fill="#ff0505" textLength="332.6" lengthAdjust="spacingAndGlyphs">with preplasma 2400 fs</text>
<text x="968.15" y="106.9" font-family="'Liberation Sans', Arial, Helvetica, sans-serif" font-weight="bold" font-size="30.5" fill="#047d12" textLength="380.6" lengthAdjust="spacingAndGlyphs">without preplasma 2200 fs</text>
</g>
<text x="901.35" y="174.2" font-family="'Liberation Sans', Arial, Helvetica, sans-serif" font-weight="bold" font-size="30.6" fill="#000">n<tspan font-size="21.6" dy="13.4">foam</tspan><tspan dy="-13.4"> = 20n</tspan><tspan font-size="21.6" dy="13.4">cr</tspan></text>
<text transform="translate(896.83 464.6) scale(1.065 1)" font-family="'Liberation Sans', Arial, Helvetica, sans-serif" font-size="35.5" text-anchor="middle" fill="#000">-60</text>
<text transform="translate(1039.39 464.6) scale(1.065 1)" font-family="'Liberation Sans', Arial, Helvetica, sans-serif" font-size="35.5" text-anchor="middle" fill="#000">-40</text>
<text transform="translate(1181.96 464.6) scale(1.065 1)" font-family="'Liberation Sans', Arial, Helvetica, sans-serif" font-size="35.5" text-anchor="middle" fill="#000">-20</text>
<text transform="translate(1325.32 464.6) scale(1.065 1)" font-family="'Liberation Sans', Arial, Helvetica, sans-serif" font-size="35.5" text-anchor="middle" fill="#000">0</text>
<text transform="translate(788.25 439.4) scale(1.1 1)" font-family="'Liberation Sans', Arial, Helvetica, sans-serif" font-size="32.5" text-anchor="end" fill="#000">10</text>
<text transform="translate(788.75 420.8) scale(1.13 1)" font-family="'Liberation Sans', Arial, Helvetica, sans-serif" font-size="22.5" fill="#000">-2</text>
<text transform="translate(788.25 369.35) scale(1.1 1)" font-family="'Liberation Sans', Arial, Helvetica, sans-serif" font-size="32.5" text-anchor="end" fill="#000">10</text>
<text transform="translate(788.75 350.75) scale(1.13 1)" font-family="'Liberation Sans', Arial, Helvetica, sans-serif" font-size="22.5" fill="#000">-1</text>
<text transform="translate(796.55 299.3) scale(1.1 1)" font-family="'Liberation Sans', Arial, Helvetica, sans-serif" font-size="32.5" text-anchor="end" fill="#000">10</text>
<text transform="translate(798.05 280.7) scale(1.13 1)" font-family="'Liberation Sans', Arial, Helvetica, sans-serif" font-size="22.5" fill="#000">0</text>
<text transform="translate(796.55 229.26) scale(1.1 1)" font-family="'Liberation Sans', Arial, Helvetica, sans-serif" font-size="32.5" text-anchor="end" fill="#000">10</text>
<text transform="translate(798.05 210.66) scale(1.13 1)" font-family="'Liberation Sans', Arial, Helvetica, sans-serif" font-size="22.5" fill="#000">1</text>
<text transform="translate(796.55 159.21) scale(1.1 1)" font-family="'Liberation Sans', Arial, Helvetica, sans-serif" font-size="32.5" text-anchor="end" fill="#000">10</text>
<text transform="translate(798.05 140.61) scale(1.13 1)" font-family="'Liberation Sans', Arial, Helvetica, sans-serif" font-size="22.5" fill="#000">2</text>
<text transform="translate(796.55 89.16) scale(1.1 1)" font-family="'Liberation Sans', Arial, Helvetica, sans-serif" font-size="32.5" text-anchor="end" fill="#000">10</text>
<text transform="translate(798.05 70.56) scale(1.13 1)" font-family="'Liberation Sans', Arial, Helvetica, sans-serif" font-size="22.5" fill="#000">3</text>
<text x="1110.97" y="496.2" font-family="'Liberation Sans', Arial, Helvetica, sans-serif" font-weight="bold" font-size="30.7" text-anchor="middle" fill="#000">Position [<tspan font-family="'Liberation Serif', 'DejaVu Serif', serif" font-weight="normal" font-size="31">μ</tspan>m]</text>
<text transform="translate(727.25 232.8) rotate(-90)" font-family="'Liberation Sans', Arial, Helvetica, sans-serif" font-weight="bold" font-size="30.7" text-anchor="middle" fill="#000">Electron Density [n<tspan font-size="18" dy="18.3">cr</tspan><tspan dy="-18.3">]</tspan></text>
<text x="1394.5" y="19.6" font-family="'Liberation Sans', Arial, Helvetica, sans-serif" font-weight="bold" font-size="27" text-anchor="end" fill="#000">b)</text>
</g>
<g id="panel-c">
<clipPath id="clip-c"><rect x="121.75" y="546.1" width="570.25" height="399.2"/></clipPath>
<g stroke="#7d7d7d" stroke-width="4" stroke-dasharray="1.15 1.9" fill="none">
<line x1="193.03" y1="945.3" x2="193.03" y2="546.1"/>
<line x1="335.59" y1="945.3" x2="335.59" y2="546.1"/>
<line x1="478.16" y1="945.3" x2="478.16" y2="546.1"/>
<line x1="620.72" y1="945.3" x2="620.72" y2="546.1"/>
<line x1="121.75" y1="875.25" x2="692" y2="875.25"/>
<line x1="121.75" y1="805.2" x2="692" y2="805.2"/>
<line x1="121.75" y1="735.16" x2="692" y2="735.16"/>
<line x1="121.75" y1="665.11" x2="692" y2="665.11"/>
<line x1="121.75" y1="595.06" x2="692" y2="595.06"/>
</g>
<g clip-path="url(#clip-c)" fill="none" stroke-width="4.3" stroke-linejoin="miter" stroke-miterlimit="4">
<g stroke="#ff0505">
<path d="M121.5 843.5V886.08M124.27 856.89V917.66M126.67 839.55V905.1M129.45 840.27V896.29M132.26 846.43V882.22M135.01 843.61V904.52M137.89 852.72V903.62M140.94 843.49V891.68M143.84 839.56V891.47M146.13 833.37V913.76M148.92 847.25V892.24M151.58 837.41V901.98M154.05 843.72V898.35M156.57 852.92V913.14M159.09 839.67V905.14M161.71 834.64V893.42M164.3 847.49V882.02M167.05 852.84V890.75M169.68 843.84V902.22M172.62 831.37V890.82M174.96 840.91V890.55M177.89 848.98V903.4M180.76 826.09V890.94M183.06 852.46V885.37M185.42 830.64V893.8M188.2 851.46V899.73M190.53 842.84V889.54M193 833.53V897.14M195.97 852.83V902.87M198.64 848.76V882.81M201.58 839.86V896.3M204.23 826.3V889.44M207.25 831.2V884.63M209.59 825.49V891.62M212.34 847.3V899.61M215.29 829.36V880.82M218.25 836.5V895.76M220.75 825.37V875.73M223.7 832.83V882.26M226.16 828.65V875.11M229.08 834.46V873.45M231.78 828.29V880.69M234.75 825.66V891.58M237.37 823.61V874.03M239.98 825.4V891.91M242.28 841.17V886.24M245.02 834.1V868.22M247.52 827.64V864.51M249.82 829.84V871.47M252.43 822.97V866.49M255.3 833.59V868.91M258.03 834V873.84M260.99 831.61V862.19M263.4 835.86V878.52M266.2 831.17V870.53M269.22 824.75V865.77M271.96 829.25V864.42M274.46 830.23V862.01M277.02 826.15V863.68M279.54 836.72V859.57M282.51 836.39V859.7M285.34 837.01V866.78M287.82 829.34V859.06M290.35 832.11V868.63M292.66 825.47V868.14M295.07 823.04V860.46M297.76 820.05V867.07M300.41 819.53V868.58M303.19 835.07V852.79M305.73 827.23V870.54M308.3 823.54V854.83M310.91 821.71V859.26M313.7 821.58V851.55M316.51 832.32V862.38M319.22 822.05V870.55M321.85 830.59V849.83M324.59 827.24V853.38M326.89 831.42V857.19M329.34 821.15V860.1M332.31 826.52V852.98M335 817.82V854.01M337.47 825.85V860.95M339.82 827.44V859.69M342.34 828.65V861.71M344.94 825.56V848.8M347.37 824.93V849.68M350.07 816.99V847.04M352.64 815.49V847.2M355.29 827.25V857.13M357.65 826.9V850.32M360.27 814.41V851.27M363.25 822.98V861.58M366.2 813.86V867.41M368.72 816.43V862.04M371.33 822.91V857.2M373.72 830.44V850.44M376.55 824.2V863.6M379.5 821.34V856.25M381.86 818.75V859.12M384.37 815.24V852.33M387.18 817.99V861.14M390.26 822.36V849.4M392.86 812.93V853.57M395.49 821.12V849.21M398.45 825.88V860.06M400.93 823.94V854.98M403.53 828.31V860.48M406.57 832.78V865.14M409.16 833.05V865.17M411.58 831.94V852.76M414.6 820.33V865.5M417.13 823.54V868.07M419.56 824.98V857.87M422.2 837.27V864.94M425.11 826.89V861.26M427.67 837.34V859.68M430.75 837.2V861.55M433.53 839.84V864.67M435.88 839.73V875.2M438.81 841.43V869.42M441.89 841.54V870.03M444.29 841.59V875.42M446.68 837.71V880.16M449.69 834.34V885.35M451.99 856.08V891.13M454.92 843.09V892.97M457.91 844.19V907.45M460.73 856.28V917.11M463.7 882.92V968.73M466.49 864.24V961.83M469.05 879.1V956.61M471.38 889.59V975.66M474.25 885.29V982.92"/>
<polyline points="474.25,934.1 476.8,975.3 477.8,820 478.8,700 479.4,690 480,684.44"/>
<path d="M480 672.18V696.71M481.91 671.05V692.01M483.48 672.54V693.02M485.25 676.69V695.09M486.97 681.67V696.51M488.51 685.16V697.04"/>
<path d="M491 689.27V698.27M492.79 688.24V698.26M494.58 689.72V699.29"/>
<path d="M497.2 692.65V717.1"/>
<path d="M500.5 689.34V701.11M502.79 690.52V699.37M504.75 687.18V698.22M506.93 690.24V698.86M509.45 689.18V701.77M511.85 689V698.34M514.1 690.16V699.03M516.03 688.9V701.25M518.31 687.65V698.68M520.29 688.22V700.36M522.78 690.1V700.46M524.9 689.41V701.73"/>
<path d="M528.6 690.88V703.78"/>
<path d="M532.5 689.11V699.93M534.48 687.35V699.81M536.87 688.54V699.82M539.3 688.54V698.23M541.69 690.19V701.38M543.99 689.62V699.9M546.33 688.05V700.99M548.78 690.51V700.18M551.02 689.8V700.21"/>
<path d="M555 676.46V708.63"/>
<path d="M559 688.35V698.19M561.09 689.93V700.54M563.15 689.24V701.2M565.64 689.18V700.81M567.71 690.11V701.78M569.99 689.27V700.81M572.03 687.31V701.82M574.39 688.29V699.12M576.34 690.09V701.07M578.47 689.88V701.17M580.94 690.81V701.57M583.42 690.76V699.79M585.56 690.26V698.51M588.03 690.79V700.53M589.97 687.29V700.26M592.25 687.49V701.12"/>
<path d="M595.6 680.1V718.78"/>
<path d="M599.5 690.16V699.48M601.91 690.52V701.24M604.33 687.94V699.48M606.85 689.78V701.87M608.92 689.83V699.13"/>
<polyline points="608.92,694.48 612,700 613.5,672 615.5,690 618.5,694 620.5,690 622,672 623.5,666 625,666.1"/>
<path d="M625 661.12V671.07M627.13 662.63V671.11M629.66 661.84V670.77M632.22 662.21V668.82M634.83 663.28V671.46M637.05 660.63V670.67M639.68 661.58V670.75M642.32 662.35V671.39M645.03 660.83V669.21M647.25 662.24V668.95M649.83 662.83V669.81M652.22 662.45V668.81M654.51 662.5V669.93M657.25 663.08V670.24M659.96 662.84V670.82M662.05 663.22V668.68M664.51 661.31V669.53M666.71 662.68V670.4M669.37 662.68V671.11M671.96 660.53V668.69M674.01 663.41V671.47M676.14 661.75V670.45M678.6 660.86V668.89M680.82 662.17V670.45M683.17 661.83V669.97M685.77 661.41V671.37M688.37 663.35V669.35M690.96 662.51V670.97M693.33 663.11V669.61"/>
</g>
<g stroke="#047d12">
<polyline points="493,975.3 493,700 493.2,658 494.5,658 495.2,678.02"/>
<path d="M495.2 657.3V698.74M496.83 657.86V698.43M498.37 662.05V697.5M500.18 669.06V697.37M502.21 675V698.55M503.86 679.65V697.9M505.86 684.89V698.51"/>
<path d="M508.5 688.29V697.45M510.56 687.66V696.96M512.81 687.56V698.66M514.94 689.73V699.45"/>
<path d="M517.2 682.94V715.7"/>
<path d="M520 686.74V697.45M522.49 688.43V697.91M524.54 688.15V698.36M526.76 687.48V699.07M529.29 688.49V698.59M531.46 688.9V696.85M533.68 686.95V700.36M536.15 689.21V696.88"/>
<path d="M538.6 691.14V701.57"/>
<path d="M541.5 686.77V700.18M543.52 687.47V697.32M545.89 688.08V700.07M548.24 687.84V698.11"/>
<path d="M551.6 682.97V708.29"/>
<path d="M554.5 688.23V699M556.39 688.29V698.49M558.3 687.74V698.82M560.26 688.81V699.09M562.66 688.27V696.91M564.92 689.59V698.83M566.95 687.89V697.07M569.34 686.74V697.43M571.59 688.91V699.59M573.9 687.45V699.81"/>
<path d="M576.2 683.17V712.21"/>
<path d="M579.5 687.66V700.19M581.92 686.43V698.98M584.24 686.97V698.76M586.57 687.43V698.48M589.09 686.76V698.46"/>
<path d="M592 686.28V703.75"/>
<path d="M595 686.25V698.07M597.31 689.51V698.89M599.26 686.3V698.93M601.57 687.02V699.43M603.87 689.67V699.58M605.89 689.42V700.03M607.99 687.66V696.78M610.04 686.92V697.12M612.49 687.24V697.72"/>
<path d="M615 664.87V706.09"/>
<polyline points="615,685.48 617.2,692 618.6,694 620,680 621.5,668 623,664 624.5,665.12"/>
<path d="M624.5 660.44V669.81M626.83 662.82V670.35M628.89 663V668.02M631.45 660.54V670.09M633.96 660.95V668.25M636.19 661.24V670.43M638.72 663.08V669.59M641.44 660.86V670.38M643.5 662.78V669.45M645.63 662.07V667.91M648.09 660.56V670.52M650.31 662.14V670.09M652.84 662.4V670.1M655.53 662.54V669.7M657.95 661.59V668.51M660.06 661.55V670.14M662.21 662.54V668.54M664.63 662.95V670M667.04 661.63V670.37M669.27 662V668.61M672.03 662.43V670.56M674.76 662.17V668.12M677.13 662.88V668.82M679.37 661.62V669.66M681.51 661.24V670.07M684.18 660.81V669.09M686.86 661.14V668.06M688.97 661.07V668.01M691.1 662.96V668.98M693.44 661.28V670.2"/>
</g>
</g>
<g stroke="#000" stroke-width="4" fill="none">
<path d="M157.39 945.3v-6.5 M157.39 546.1v6.5"/>
<path d="M193.03 945.3v-11 M193.03 546.1v11"/>
<path d="M228.67 945.3v-6.5 M228.67 546.1v6.5"/>
<path d="M264.31 945.3v-6.5 M264.31 546.1v6.5"/>
<path d="M299.95 945.3v-6.5 M299.95 546.1v6.5"/>
<path d="M335.59 945.3v-11 M335.59 546.1v11"/>
<path d="M371.23 945.3v-6.5 M371.23 546.1v6.5"/>
<path d="M406.88 945.3v-6.5 M406.88 546.1v6.5"/>
<path d="M442.52 945.3v-6.5 M442.52 546.1v6.5"/>
<path d="M478.16 945.3v-11 M478.16 546.1v11"/>
<path d="M513.8 945.3v-6.5 M513.8 546.1v6.5"/>
<path d="M549.44 945.3v-6.5 M549.44 546.1v6.5"/>
<path d="M585.08 945.3v-6.5 M585.08 546.1v6.5"/>
<path d="M620.72 945.3v-11 M620.72 546.1v11"/>
<path d="M656.36 945.3v-6.5 M656.36 546.1v6.5"/>
<path d="M121.75 924.21h6.5 M692 924.21h-6.5"/>
<path d="M121.75 911.88h6.5 M692 911.88h-6.5"/>
<path d="M121.75 903.13h6.5 M692 903.13h-6.5"/>
<path d="M121.75 896.34h6.5 M692 896.34h-6.5"/>
<path d="M121.75 890.79h6.5 M692 890.79h-6.5"/>
<path d="M121.75 886.1h6.5 M692 886.1h-6.5"/>
<path d="M121.75 882.04h6.5 M692 882.04h-6.5"/>
<path d="M121.75 878.46h6.5 M692 878.46h-6.5"/>
<path d="M121.75 875.25h11 M692 875.25h-11"/>
<path d="M121.75 854.17h6.5 M692 854.17h-6.5"/>
<path d="M121.75 841.83h6.5 M692 841.83h-6.5"/>
<path d="M121.75 833.08h6.5 M692 833.08h-6.5"/>
<path d="M121.75 826.29h6.5 M692 826.29h-6.5"/>
<path d="M121.75 820.74h6.5 M692 820.74h-6.5"/>
<path d="M121.75 816.06h6.5 M692 816.06h-6.5"/>
<path d="M121.75 811.99h6.5 M692 811.99h-6.5"/>
<path d="M121.75 808.41h6.5 M692 808.41h-6.5"/>
<path d="M121.75 805.2h11 M692 805.2h-11"/>
<path d="M121.75 784.12h6.5 M692 784.12h-6.5"/>
<path d="M121.75 771.78h6.5 M692 771.78h-6.5"/>
<path d="M121.75 763.03h6.5 M692 763.03h-6.5"/>
<path d="M121.75 756.24h6.5 M692 756.24h-6.5"/>
<path d="M121.75 750.7h6.5 M692 750.7h-6.5"/>
<path d="M121.75 746.01h6.5 M692 746.01h-6.5"/>
<path d="M121.75 741.95h6.5 M692 741.95h-6.5"/>
<path d="M121.75 738.36h6.5 M692 738.36h-6.5"/>
<path d="M121.75 735.16h11 M692 735.16h-11"/>
<path d="M121.75 714.07h6.5 M692 714.07h-6.5"/>
<path d="M121.75 701.74h6.5 M692 701.74h-6.5"/>
<path d="M121.75 692.98h6.5 M692 692.98h-6.5"/>
<path d="M121.75 686.2h6.5 M692 686.2h-6.5"/>
<path d="M121.75 680.65h6.5 M692 680.65h-6.5"/>
<path d="M121.75 675.96h6.5 M692 675.96h-6.5"/>
<path d="M121.75 671.9h6.5 M692 671.9h-6.5"/>
<path d="M121.75 668.31h6.5 M692 668.31h-6.5"/>
<path d="M121.75 665.11h11 M692 665.11h-11"/>
<path d="M121.75 644.02h6.5 M692 644.02h-6.5"/>
<path d="M121.75 631.69h6.5 M692 631.69h-6.5"/>
<path d="M121.75 622.94h6.5 M692 622.94h-6.5"/>
<path d="M121.75 616.15h6.5 M692 616.15h-6.5"/>
<path d="M121.75 610.6h6.5 M692 610.6h-6.5"/>
<path d="M121.75 605.91h6.5 M692 605.91h-6.5"/>
<path d="M121.75 601.85h6.5 M692 601.85h-6.5"/>
<path d="M121.75 598.27h6.5 M692 598.27h-6.5"/>
<path d="M121.75 595.06h11 M692 595.06h-11"/>
<path d="M121.75 573.97h6.5 M692 573.97h-6.5"/>
<path d="M121.75 561.64h6.5 M692 561.64h-6.5"/>
<path d="M121.75 552.89h6.5 M692 552.89h-6.5"/>
</g>
<rect x="121.75" y="546.1" width="570.25" height="399.2" fill="none" stroke="#000" stroke-width="4"/>
<g id="legend-c">
<rect x="192.25" y="558.2" width="465.3" height="81.3" fill="#fff"/>
<path d="M652.55 559.2 L657.55 564.2 L657.55 639.5 L197.25 639.5 L192.25 634.5 L652.55 634.5 Z" fill="#000"/>
<path d="M193.05 635.5 V559 H653.55" fill="none" stroke="#000" stroke-width="1.6"/>
<line x1="202.05" y1="579.5" x2="257.65" y2="579.5" stroke="#ff0505" stroke-width="4.3"/>
<line x1="202.05" y1="609.9" x2="257.65" y2="609.9" stroke="#047d12" stroke-width="4.3"/>
<text x="263.15" y="590.2" font-family="'Liberation Sans', Arial, Helvetica, sans-serif" font-weight="bold" font-size="30.5" fill="#ff0505" textLength="332.6" lengthAdjust="spacingAndGlyphs">with preplasma 1200 fs</text>
<text x="263.15" y="620.8" font-family="'Liberation Sans', Arial, Helvetica, sans-serif" font-weight="bold" font-size="30.5" fill="#047d12" textLength="380.6" lengthAdjust="spacingAndGlyphs">without preplasma 1000 fs</text>
</g>
<text x="196.35" y="688.1" font-family="'Liberation Sans', Arial, Helvetica, sans-serif" font-weight="bold" font-size="30.6" fill="#000">n<tspan font-size="21.6" dy="13.4">foam</tspan><tspan dy="-13.4"> = 40n</tspan><tspan font-size="21.6" dy="13.4">cr</tspan></text>
<text transform="translate(191.83 978.5) scale(1.065 1)" font-family="'Liberation Sans', Arial, Helvetica, sans-serif" font-size="35.5" text-anchor="middle" fill="#000">-60</text>
<text transform="translate(334.39 978.5) scale(1.065 1)" font-family="'Liberation Sans', Arial, Helvetica, sans-serif" font-size="35.5" text-anchor="middle" fill="#000">-40</text>
<text transform="translate(476.96 978.5) scale(1.065 1)" font-family="'Liberation Sans', Arial, Helvetica, sans-serif" font-size="35.5" text-anchor="middle" fill="#000">-20</text>
<text transform="translate(620.32 978.5) scale(1.065 1)" font-family="'Liberation Sans', Arial, Helvetica, sans-serif" font-size="35.5" text-anchor="middle" fill="#000">0</text>
<text transform="translate(83.25 953.3) scale(1.1 1)" font-family="'Liberation Sans', Arial, Helvetica, sans-serif" font-size="32.5" text-anchor="end" fill="#000">10</text>
<text transform="translate(83.75 934.7) scale(1.13 1)" font-family="'Liberation Sans', Arial, Helvetica, sans-serif" font-size="22.5" fill="#000">-2</text>
<text transform="translate(83.25 883.25) scale(1.1 1)" font-family="'Liberation Sans', Arial, Helvetica, sans-serif" font-size="32.5" text-anchor="end" fill="#000">10</text>
<text transform="translate(83.75 864.65) scale(1.13 1)" font-family="'Liberation Sans', Arial, Helvetica, sans-serif" font-size="22.5" fill="#000">-1</text>
<text transform="translate(91.55 813.2) scale(1.1 1)" font-family="'Liberation Sans', Arial, Helvetica, sans-serif" font-size="32.5" text-anchor="end" fill="#000">10</text>
<text transform="translate(93.05 794.6) scale(1.13 1)" font-family="'Liberation Sans', Arial, Helvetica, sans-serif" font-size="22.5" fill="#000">0</text>
<text transform="translate(91.55 743.16) scale(1.1 1)" font-family="'Liberation Sans', Arial, Helvetica, sans-serif" font-size="32.5" text-anchor="end" fill="#000">10</text>
<text transform="translate(93.05 724.56) scale(1.13 1)" font-family="'Liberation Sans', Arial, Helvetica, sans-serif" font-size="22.5" fill="#000">1</text>
<text transform="translate(91.55 673.11) scale(1.1 1)" font-family="'Liberation Sans', Arial, Helvetica, sans-serif" font-size="32.5" text-anchor="end" fill="#000">10</text>
<text transform="translate(93.05 654.51) scale(1.13 1)" font-family="'Liberation Sans', Arial, Helvetica, sans-serif" font-size="22.5" fill="#000">2</text>
<text transform="translate(91.55 603.06) scale(1.1 1)" font-family="'Liberation Sans', Arial, Helvetica, sans-serif" font-size="32.5" text-anchor="end" fill="#000">10</text>
<text transform="translate(93.05 584.46) scale(1.13 1)" font-family="'Liberation Sans', Arial, Helvetica, sans-serif" font-size="22.5" fill="#000">3</text>
<text x="405.98" y="1010.1" font-family="'Liberation Sans', Arial, Helvetica, sans-serif" font-weight="bold" font-size="30.7" text-anchor="middle" fill="#000">Position [<tspan font-family="'Liberation Serif', 'DejaVu Serif', serif" font-weight="normal" font-size="31">μ</tspan>m]</text>
<text transform="translate(22.25 746.7) rotate(-90)" font-family="'Liberation Sans', Arial, Helvetica, sans-serif" font-weight="bold" font-size="30.7" text-anchor="middle" fill="#000">Electron Density [n<tspan font-size="18" dy="18.3">cr</tspan><tspan dy="-18.3">]</tspan></text>
<text x="697.8" y="535.1" font-family="'Liberation Sans', Arial, Helvetica, sans-serif" font-weight="bold" font-size="27" text-anchor="end" fill="#000">c)</text>
</g>
<g id="panel-d">
<clipPath id="clip-d"><rect x="826.75" y="546.1" width="570.25" height="399.2"/></clipPath>
<g stroke="#7d7d7d" stroke-width="4" stroke-dasharray="1.15 1.9" fill="none">
<line x1="898.03" y1="945.3" x2="898.03" y2="546.1"/>
<line x1="1040.59" y1="945.3" x2="1040.59" y2="546.1"/>
<line x1="1183.16" y1="945.3" x2="1183.16" y2="546.1"/>
<line x1="1325.72" y1="945.3" x2="1325.72" y2="546.1"/>
<line x1="826.75" y1="875.25" x2="1397" y2="875.25"/>
<line x1="826.75" y1="805.2" x2="1397" y2="805.2"/>
<line x1="826.75" y1="735.16" x2="1397" y2="735.16"/>
<line x1="826.75" y1="665.11" x2="1397" y2="665.11"/>
<line x1="826.75" y1="595.06" x2="1397" y2="595.06"/>
</g>
<g clip-path="url(#clip-d)" fill="none" stroke-width="4.3" stroke-linejoin="miter" stroke-miterlimit="4">
<g stroke="#ff0505">
<path d="M826.5 861.39V898.98M829.72 862.39V907.33M832.21 862.81V905.22M834.95 852.13V896.61M837.95 852.93V938.67M841.1 857.44V902.14M843.84 841.49V909.19M846.25 854.94V905.64M848.81 855.01V901.62M851.77 859.82V900.8M854.95 851.56V900.33M858.03 862.97V906.82M860.79 855.53V907.45M863.8 857.85V903.62M866.43 841.7V906.54M869.43 862.5V897.71M872.35 856.11V896.14M875.28 854.27V930.94M877.68 851.41V929.08M880.17 857.7V900.72M883.1 849.11V910.6M885.67 852.14V897.39M888.5 853.94V910.49M891.39 856.34V932.12M893.86 855.93V931.51M896.67 848.86V907.96M899.18 855.98V906.09M902.15 852.84V906.01M905.09 860.82V902.68M907.72 858.75V906.22M910.33 856.3V903.9M912.91 853.24V900.48M915.96 858.26V905.79M918.93 848.83V908.57M921.67 848.24V908.03M924.28 856.13V896.87M926.66 852.86V905.59M929.78 856.03V910.58M932.61 858.24V905.98M935.11 848.65V930.41M938.14 860.06V902.04M941.23 849.19V934.47M943.74 859.59V901.44M946.58 853.63V910.79M949.15 862.25V932.27M951.66 858.23V910.42M954.53 860.57V897.27M957.43 857.64V934.27M959.81 862.56V897.92M962.74 850.31V908.08M965.4 850.16V911.36M968.51 858.99V904.19M971.31 851.23V901.84M974.29 851.41V908.4M977.22 853.61V912.84M980.11 845.76V910.61M982.6 841.47V901.52M985.22 857.59V900.3M987.76 850.17V935.63M990.44 853.3V912.15M993.5 848.41V904.07M995.95 856V902.62M998.91 856.06V933.98M1001.66 853.78V903.98M1004.46 858.97V899.72M1007.02 852.49V901.04M1009.65 850.7V897.08M1012.32 855.37V897.71M1015.49 852.36V905.01M1017.9 862.38V913.03M1020.42 849.73V903.66M1023.26 849.98V907.54M1026.35 850.9V902.54M1029.41 853.32V938.68M1032.54 843.76V911.17"/>
<path d="M1036 853.87V902.8M1039.07 853.58V903.47M1042.33 851.28V913.23M1044.96 843.32V922.12M1047.45 846.38V920.59M1050.74 858.02V918.07M1053.8 853.45V952.21M1056.92 857.69V932.6"/>
<path d="M1060 878.95V902.3M1063.3 854.87V952.24M1067.02 858.42V942.11M1070.43 856.11V956.88M1073.72 864.51V912.05M1077.19 846.53V949.3M1080.72 867.09V950.67M1084.74 855.98V944.87M1088.13 882.18V957.64M1092.06 862.87V924.84M1095.45 853.29V961.99M1099.5 880.85V934.26M1103.58 877.86V936.17M1106.77 879.37V919.51M1110.66 862.8V943.33M1114.16 858.46V935.75M1117.23 867.1V931.41M1120.99 876.19V947.53M1124.46 858.36V932.51M1127.84 874.84V938.36M1130.92 875.67V909.3M1134.12 874.74V923.98M1138.09 864.52V952.8M1141.29 886.82V913.84M1144.83 861.8V933.33M1148.1 865.45V945.96M1151.24 861.15V935.64M1154.71 865.39V917.95M1158.76 880.85V923.8"/>
<path d="M1161.5 905.58V975.3M1165.38 905.14V975.3M1168.91 895.62V975.3M1172.31 905.62V975.3M1175.71 903.51V975.3M1178.64 903.3V975.3M1181.63 897.98V975.3M1185.35 910.61V976.2M1188.95 904.63V975.3M1192.43 900.92V975.3M1196.19 909.58V975.3M1199.72 892.52V975.3M1202.72 911.52V975.3M1205.72 894.79V975.3M1208.87 900.38V975.3M1212.69 916.18V975.3"/>
<polyline points="1212.69,945.74 1217.7,975.3 1217.9,800 1218.2,672 1219.5,671.45"/>
<path d="M1219.5 665.45V677.45M1221.75 666.82V677.69M1223.66 667.88V675.85M1225.65 665.74V676.7M1227.74 665.71V675.3M1229.87 667.24V677.95"/>
<polyline points="1229.87,672.6 1232.5,678 1233.7,684 1235,676 1236.5,673.68"/>
<path d="M1236.5 666.68V680.69M1239.02 668.67V678.35M1241.5 668.38V678.41M1243.49 669.58V681.44M1246.01 669.18V678.4M1248.37 670.13V680.11M1250.38 668.95V679.79"/>
<polyline points="1250.38,674.37 1252,682 1253.5,694 1255,690.87"/>
<path d="M1255 684.31V697.44M1256.94 686.02V695.65M1258.97 685.27V697.09M1261.02 684.4V698.57M1263.04 684.19V696.64M1265.36 685.83V695.86M1267.86 684.22V697.89M1270.34 683.7V696.95M1272.22 683.23V696.55M1274.5 684.53V699.19M1276.77 686.59V697.41M1279.09 686.94V698.71M1281.07 685.58V699.15M1283.52 686.94V697.64M1286 686.45V699.58M1288.27 686.32V701.21M1290.27 688.38V702.33M1292.22 689.42V702.42M1294.5 688.01V701.82M1296.99 690.08V701.04M1299.18 689.52V700.78M1301.13 689.23V701.84M1303.52 686.37V699.71M1305.71 688.34V699.37M1307.8 686.37V698.45M1309.88 685.35V699.76M1312.18 683.85V697.46M1314.28 684.64V698.61M1316.46 683.18V698.07M1318.98 688.03V700.41"/>
<polyline points="1318.98,694.22 1322.5,700 1324.5,702 1326.3,707 1327.2,690 1328,657 1329.5,654.5 1331,655.5 1333,664 1334.5,665.59"/>
<path d="M1334.5 661.02V670.16M1336.9 660.93V670.69M1339.27 662.42V670.33M1341.83 661.63V671.45M1343.96 661.62V669.84M1346.43 660.76V671.06M1348.82 660.22V670.32M1350.98 661.96V669.19M1353.56 659.89V671.59M1356.28 660.3V670.53M1358.74 661.49V670.83M1360.85 661.52V668.54M1363.08 662.24V670.01M1365.71 660.37V669.84M1368.12 662.75V671.33M1370.8 661.93V670.71M1372.92 660.47V669.58M1375.05 662.88V669.15M1377.26 660.08V670.98M1379.4 662.1V669.33M1381.83 661.5V671.08M1384 660.26V670.31M1386.62 661.65V670.16M1389.11 660.16V668.79M1391.39 660.5V668.68M1394.05 660.95V671.18M1396.58 660.96V669.42M1399.17 661.88V669.16"/>
</g>
<g stroke="#047d12">
<polyline points="1238.4,975.3 1238.4,700 1238.6,658.7 1240,661.94"/>
<path d="M1240 656.25V667.62M1242.11 656.72V667.73M1244.48 657.56V666.78M1246.49 658.34V666.86M1248.76 659.45V666.62M1250.97 657.67V666.95M1253.49 659.61V665.95M1255.51 658.77V666.65M1257.6 657.66V665.71M1259.67 657.04V667.58"/>
<polyline points="1259.67,662.31 1262,663 1263.3,684 1264.5,685.29"/>
<path d="M1264.5 679.61V690.96M1266.55 679.01V691M1269.03 680.81V693.59M1271.4 679.4V691.89M1273.6 682.9V693.01M1275.77 684.07V699.39M1277.87 685.89V695.51M1280.1 684.02V694.77M1282.43 684.84V693.51M1284.95 681.46V692.42M1287.14 681.67V690.66M1289.21 680.15V690.03M1291.42 680.3V689.87M1293.79 679.98V688.84M1295.8 678.15V689.15M1298.16 678.11V689.06M1300.09 679.89V689.87M1302.08 680.29V690.89M1304.28 681.13V691.22M1306.17 681.18V692.11M1308.66 684.4V695.25"/>
<path d="M1311.5 685.77V698.09M1313.51 689.88V704.29M1315.37 697.04V709.9M1317.43 702.19V719.14"/>
<polyline points="1317.43,710.66 1319.3,704 1320.8,686 1322.5,674 1324.5,667 1326,663.92"/>
<path d="M1326 659.72V668.12M1328.54 662.34V670.96M1330.98 661.49V670.28M1333.35 662.61V669.31M1335.49 660.1V671.1M1337.67 661.69V670.01M1340.33 662.38V670.57M1342.75 662.05V669.47M1345.41 662.38V669.53M1347.74 661.71V668.57M1350.34 662.04V669.54M1352.98 661.78V668.43M1355.14 661.51V668.26M1357.88 660.79V670.46M1360.55 660.77V670.48M1362.78 660.28V668.78M1364.87 661.19V670.04M1367.38 662.28V668.87M1369.53 659.88V669.88M1371.65 660.55V669.1M1374.03 659.96V668.75M1376.32 660.83V670.41M1378.74 662.03V669.9M1381.24 662.26V668.35M1383.47 660.33V669.7M1386.03 662.44V669.73M1388.07 661.47V668.39M1390.62 661.38V669.23M1392.94 661.15V669.27M1395.38 660.81V668.51M1397.57 661.55V669.4"/>
</g>
</g>
<g stroke="#000" stroke-width="4" fill="none">
<path d="M862.39 945.3v-6.5 M862.39 546.1v6.5"/>
<path d="M898.03 945.3v-11 M898.03 546.1v11"/>
<path d="M933.67 945.3v-6.5 M933.67 546.1v6.5"/>
<path d="M969.31 945.3v-6.5 M969.31 546.1v6.5"/>
<path d="M1004.95 945.3v-6.5 M1004.95 546.1v6.5"/>
<path d="M1040.59 945.3v-11 M1040.59 546.1v11"/>
<path d="M1076.23 945.3v-6.5 M1076.23 546.1v6.5"/>
<path d="M1111.88 945.3v-6.5 M1111.88 546.1v6.5"/>
<path d="M1147.52 945.3v-6.5 M1147.52 546.1v6.5"/>
<path d="M1183.16 945.3v-11 M1183.16 546.1v11"/>
<path d="M1218.8 945.3v-6.5 M1218.8 546.1v6.5"/>
<path d="M1254.44 945.3v-6.5 M1254.44 546.1v6.5"/>
<path d="M1290.08 945.3v-6.5 M1290.08 546.1v6.5"/>
<path d="M1325.72 945.3v-11 M1325.72 546.1v11"/>
<path d="M1361.36 945.3v-6.5 M1361.36 546.1v6.5"/>
<path d="M826.75 924.21h6.5 M1397 924.21h-6.5"/>
<path d="M826.75 911.88h6.5 M1397 911.88h-6.5"/>
<path d="M826.75 903.13h6.5 M1397 903.13h-6.5"/>
<path d="M826.75 896.34h6.5 M1397 896.34h-6.5"/>
<path d="M826.75 890.79h6.5 M1397 890.79h-6.5"/>
<path d="M826.75 886.1h6.5 M1397 886.1h-6.5"/>
<path d="M826.75 882.04h6.5 M1397 882.04h-6.5"/>
<path d="M826.75 878.46h6.5 M1397 878.46h-6.5"/>
<path d="M826.75 875.25h11 M1397 875.25h-11"/>
<path d="M826.75 854.17h6.5 M1397 854.17h-6.5"/>
<path d="M826.75 841.83h6.5 M1397 841.83h-6.5"/>
<path d="M826.75 833.08h6.5 M1397 833.08h-6.5"/>
<path d="M826.75 826.29h6.5 M1397 826.29h-6.5"/>
<path d="M826.75 820.74h6.5 M1397 820.74h-6.5"/>
<path d="M826.75 816.06h6.5 M1397 816.06h-6.5"/>
<path d="M826.75 811.99h6.5 M1397 811.99h-6.5"/>
<path d="M826.75 808.41h6.5 M1397 808.41h-6.5"/>
<path d="M826.75 805.2h11 M1397 805.2h-11"/>
<path d="M826.75 784.12h6.5 M1397 784.12h-6.5"/>
<path d="M826.75 771.78h6.5 M1397 771.78h-6.5"/>
<path d="M826.75 763.03h6.5 M1397 763.03h-6.5"/>
<path d="M826.75 756.24h6.5 M1397 756.24h-6.5"/>
<path d="M826.75 750.7h6.5 M1397 750.7h-6.5"/>
<path d="M826.75 746.01h6.5 M1397 746.01h-6.5"/>
<path d="M826.75 741.95h6.5 M1397 741.95h-6.5"/>
<path d="M826.75 738.36h6.5 M1397 738.36h-6.5"/>
<path d="M826.75 735.16h11 M1397 735.16h-11"/>
<path d="M826.75 714.07h6.5 M1397 714.07h-6.5"/>
<path d="M826.75 701.74h6.5 M1397 701.74h-6.5"/>
<path d="M826.75 692.98h6.5 M1397 692.98h-6.5"/>
<path d="M826.75 686.2h6.5 M1397 686.2h-6.5"/>
<path d="M826.75 680.65h6.5 M1397 680.65h-6.5"/>
<path d="M826.75 675.96h6.5 M1397 675.96h-6.5"/>
<path d="M826.75 671.9h6.5 M1397 671.9h-6.5"/>
<path d="M826.75 668.31h6.5 M1397 668.31h-6.5"/>
<path d="M826.75 665.11h11 M1397 665.11h-11"/>
<path d="M826.75 644.02h6.5 M1397 644.02h-6.5"/>
<path d="M826.75 631.69h6.5 M1397 631.69h-6.5"/>
<path d="M826.75 622.94h6.5 M1397 622.94h-6.5"/>
<path d="M826.75 616.15h6.5 M1397 616.15h-6.5"/>
<path d="M826.75 610.6h6.5 M1397 610.6h-6.5"/>
<path d="M826.75 605.91h6.5 M1397 605.91h-6.5"/>
<path d="M826.75 601.85h6.5 M1397 601.85h-6.5"/>
<path d="M826.75 598.27h6.5 M1397 598.27h-6.5"/>
<path d="M826.75 595.06h11 M1397 595.06h-11"/>
<path d="M826.75 573.97h6.5 M1397 573.97h-6.5"/>
<path d="M826.75 561.64h6.5 M1397 561.64h-6.5"/>
<path d="M826.75 552.89h6.5 M1397 552.89h-6.5"/>
</g>
<rect x="826.75" y="546.1" width="570.25" height="399.2" fill="none" stroke="#000" stroke-width="4"/>
<g id="legend-d">
<rect x="897.25" y="558.2" width="465.3" height="81.3" fill="#fff"/>
<path d="M1357.55 559.2 L1362.55 564.2 L1362.55 639.5 L902.25 639.5 L897.25 634.5 L1357.55 634.5 Z" fill="#000"/>
<path d="M898.05 635.5 V559 H1358.55" fill="none" stroke="#000" stroke-width="1.6"/>
<line x1="907.05" y1="579.5" x2="962.65" y2="579.5" stroke="#ff0505" stroke-width="4.3"/>
<line x1="907.05" y1="609.9" x2="962.65" y2="609.9" stroke="#047d12" stroke-width="4.3"/>
<text x="968.15" y="590.2" font-family="'Liberation Sans', Arial, Helvetica, sans-serif" font-weight="bold" font-size="30.5" fill="#ff0505" textLength="332.6" lengthAdjust="spacingAndGlyphs">with preplasma 2400 fs</text>
<text x="968.15" y="620.8" font-family="'Liberation Sans', Arial, Helvetica, sans-serif" font-weight="bold" font-size="30.5" fill="#047d12" textLength="380.6" lengthAdjust="spacingAndGlyphs">without preplasma 2200 fs</text>
</g>
<text x="901.35" y="688.1" font-family="'Liberation Sans', Arial, Helvetica, sans-serif" font-weight="bold" font-size="30.6" fill="#000">n<tspan font-size="21.6" dy="13.4">foam</tspan><tspan dy="-13.4"> = 40n</tspan><tspan font-size="21.6" dy="13.4">cr</tspan></text>
<text transform="translate(896.83 978.5) scale(1.065 1)" font-family="'Liberation Sans', Arial, Helvetica, sans-serif" font-size="35.5" text-anchor="middle" fill="#000">-60</text>
<text transform="translate(1039.39 978.5) scale(1.065 1)" font-family="'Liberation Sans', Arial, Helvetica, sans-serif" font-size="35.5" text-anchor="middle" fill="#000">-40</text>
<text transform="translate(1181.96 978.5) scale(1.065 1)" font-family="'Liberation Sans', Arial, Helvetica, sans-serif" font-size="35.5" text-anchor="middle" fill="#000">-20</text>
<text transform="translate(1325.32 978.5) scale(1.065 1)" font-family="'Liberation Sans', Arial, Helvetica, sans-serif" font-size="35.5" text-anchor="middle" fill="#000">0</text>
<text transform="translate(788.25 953.3) scale(1.1 1)" font-family="'Liberation Sans', Arial, Helvetica, sans-serif" font-size="32.5" text-anchor="end" fill="#000">10</text>
<text transform="translate(788.75 934.7) scale(1.13 1)" font-family="'Liberation Sans', Arial, Helvetica, sans-serif" font-size="22.5" fill="#000">-2</text>
<text transform="translate(788.25 883.25) scale(1.1 1)" font-family="'Liberation Sans', Arial, Helvetica, sans-serif" font-size="32.5" text-anchor="end" fill="#000">10</text>
<text transform="translate(788.75 864.65) scale(1.13 1)" font-family="'Liberation Sans', Arial, Helvetica, sans-serif" font-size="22.5" fill="#000">-1</text>
<text transform="translate(796.55 813.2) scale(1.1 1)" font-family="'Liberation Sans', Arial, Helvetica, sans-serif" font-size="32.5" text-anchor="end" fill="#000">10</text>
<text transform="translate(798.05 794.6) scale(1.13 1)" font-family="'Liberation Sans', Arial, Helvetica, sans-serif" font-size="22.5" fill="#000">0</text>
<text transform="translate(796.55 743.16) scale(1.1 1)" font-family="'Liberation Sans', Arial, Helvetica, sans-serif" font-size="32.5" text-anchor="end" fill="#000">10</text>
<text transform="translate(798.05 724.56) scale(1.13 1)" font-family="'Liberation Sans', Arial, Helvetica, sans-serif" font-size="22.5" fill="#000">1</text>
<text transform="translate(796.55 673.11) scale(1.1 1)" font-family="'Liberation Sans', Arial, Helvetica, sans-serif" font-size="32.5" text-anchor="end" fill="#000">10</text>
<text transform="translate(798.05 654.51) scale(1.13 1)" font-family="'Liberation Sans', Arial, Helvetica, sans-serif" font-size="22.5" fill="#000">2</text>
<text transform="translate(796.55 603.06) scale(1.1 1)" font-family="'Liberation Sans', Arial, Helvetica, sans-serif" font-size="32.5" text-anchor="end" fill="#000">10</text>
<text transform="translate(798.05 584.46) scale(1.13 1)" font-family="'Liberation Sans', Arial, Helvetica, sans-serif" font-size="22.5" fill="#000">3</text>
<text x="1110.97" y="1010.1" font-family="'Liberation Sans', Arial, Helvetica, sans-serif" font-weight="bold" font-size="30.7" text-anchor="middle" fill="#000">Position [<tspan font-family="'Liberation Serif', 'DejaVu Serif', serif" font-weight="normal" font-size="31">μ</tspan>m]</text>
<text transform="translate(727.25 746.7) rotate(-90)" font-family="'Liberation Sans', Arial, Helvetica, sans-serif" font-weight="bold" font-size="30.7" text-anchor="middle" fill="#000">Electron Density [n<tspan font-size="18" dy="18.3">cr</tspan><tspan dy="-18.3">]</tspan></text>
<text x="1394.5" y="535.1" font-family="'Liberation Sans', Arial, Helvetica, sans-serif" font-weight="bold" font-size="27" text-anchor="end" fill="#000">d)</text>
</g>
</svg>
</body>
</html>
